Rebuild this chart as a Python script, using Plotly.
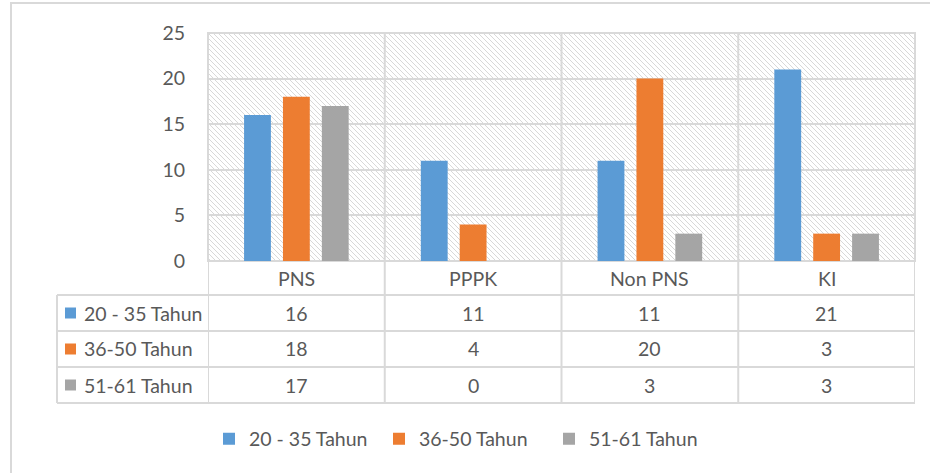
import base64
import plotly.graph_objects as go

# ---------------- data ----------------
categories = ["PNS", "PPPK", "Non PNS", "KI"]
series_names = ["20 - 35 Tahun", "36-50 Tahun", "51-61 Tahun"]
values_20_35 = [16, 11, 11, 21]
values_36_50 = [18, 4, 20, 3]
values_51_61 = [17, 0, 3, 3]
y_ticks = [0, 5, 10, 15, 20, 25]

series_values = [values_20_35, values_36_50, values_51_61]
colors = ["#5B9BD5", "#ED7D31", "#A5A5A5"]
text_color = "#595959"
line_color = "#D9D9D9"
FONT = "Lato"
FS = 19.5

# ---------------- layout geometry (pixels) ----------------
W, H = 930, 473
ML, MR, MT, MB = 208, 15, 33, 212
PW = W - ML - MR
PH = H - MT - MB


def px(xp):
    return (xp - ML) / PW


def py(yp):
    return (H - MB - yp) / PH


row_edges = [261, 295, 331, 367, 403]
table_left = 57
swatch_x0, swatch_x1 = 65, 76
label_x = 82

# hatch background as an svg image
svg = f'''<svg xmlns="http://www.w3.org/2000/svg" width="{PW}" height="{PH}">
<defs><pattern id="h" width="5" height="5" patternUnits="userSpaceOnUse">
<path d="M-1,-1 L6,6 M-1,4 L1,6 M4,-1 L6,1" stroke="#D8D8D8" stroke-width="1"/>
</pattern></defs>
<rect width="{PW}" height="{PH}" fill="white"/>
<rect width="{PW}" height="{PH}" fill="url(#h)"/>
</svg>'''
svg_uri = "data:image/svg+xml;base64," + base64.b64encode(svg.encode()).decode()

fig = go.Figure()
for name, vals, col in zip(series_names, series_values, colors):
    fig.add_trace(go.Bar(x=categories, y=vals, name=name, marker=dict(color=col, line=dict(width=0)),
                         hoverinfo="x+y+name"))

shapes = []
# plot area border
shapes.append(dict(type="rect", xref="paper", yref="paper", x0=0, x1=1, y0=0, y1=1,
                   line=dict(color=line_color, width=2), layer="below"))
# vertical category separators (through plot and table)
for k in range(len(categories) + 1):
    shapes.append(dict(type="line", xref="x", yref="paper", x0=k - 0.5, x1=k - 0.5,
                       y0=py(row_edges[-1]), y1=1, line=dict(color=line_color, width=2), layer="below"))
# table horizontal lines
for e in row_edges[1:]:
    shapes.append(dict(type="line", xref="paper", yref="paper", x0=px(table_left), x1=1,
                       y0=py(e), y1=py(e), line=dict(color=line_color, width=2), layer="below"))
shapes.append(dict(type="line", xref="paper", yref="paper", x0=px(table_left), x1=px(table_left),
                   y0=py(row_edges[1]), y1=py(row_edges[-1]), line=dict(color=line_color, width=2), layer="below"))
# outer chart border
shapes.append(dict(type="rect", xref="paper", yref="paper", x0=px(11), x1=px(940), y0=py(480), y1=py(3),
                   line=dict(color=line_color, width=2), layer="below"))

annotations = []
cat_y = (row_edges[0] + row_edges[1]) / 2
for c in categories:
    annotations.append(dict(x=c, xref="x", y=py(cat_y), yref="paper", text=c, showarrow=False,
                            xanchor="center", yanchor="middle", font=dict(family=FONT, size=FS, color=text_color)))
for j, (name, vals, col) in enumerate(zip(series_names, series_values, colors)):
    yc = (row_edges[j + 1] + row_edges[j + 2]) / 2
    shapes.append(dict(type="rect", xref="paper", yref="paper", x0=px(swatch_x0), x1=px(swatch_x1),
                       y0=py(yc + 5.5), y1=py(yc - 5.5), fillcolor=col, line=dict(width=0)))
    annotations.append(dict(x=px(label_x), xref="paper", y=py(yc), yref="paper", text=name, showarrow=False,
                            xanchor="left", yanchor="middle", font=dict(family=FONT, size=FS, color=text_color)))
    for c, v in zip(categories, vals):
        annotations.append(dict(x=c, xref="x", y=py(yc), yref="paper", text=str(v), showarrow=False,
                                xanchor="center", yanchor="middle",
                                font=dict(family=FONT, size=FS, color=text_color)))

fig.update_layout(
    width=W, height=H,
    margin=dict(l=ML, r=MR, t=MT, b=MB, pad=0),
    paper_bgcolor="white", plot_bgcolor="white",
    barmode="group", bargap=0.34, bargroupgap=0.31,
    font=dict(family=FONT, size=FS, color=text_color),
    showlegend=True,
    legend=dict(orientation="h", x=px(209), xanchor="left", y=py(439), yanchor="middle",
                entrywidth=125, entrywidthmode="pixels",
                font=dict(family=FONT, size=FS, color=text_color), bgcolor="rgba(0,0,0,0)"),
    xaxis=dict(showticklabels=False, showgrid=False, zeroline=False, showline=False, ticks="",
               range=[-0.5, len(categories) - 0.5], fixedrange=True),
    yaxis=dict(range=[0, 25], tickvals=y_ticks, showgrid=True, gridcolor=line_color, gridwidth=2,
               zeroline=False, showline=False, ticks="outside", ticklen=18, tickcolor="rgba(0,0,0,0)",
               tickfont=dict(family=FONT, size=FS, color=text_color), fixedrange=True),
    shapes=shapes,
    annotations=annotations,
    images=[dict(source=svg_uri, xref="paper", yref="paper", x=0, y=1, sizex=1, sizey=1,
                 xanchor="left", yanchor="top", sizing="stretch", layer="below")],
)

fig.write_html("out.html", config={"displayModeBar": False},
               post_script="document.body.style.margin='0px';")
